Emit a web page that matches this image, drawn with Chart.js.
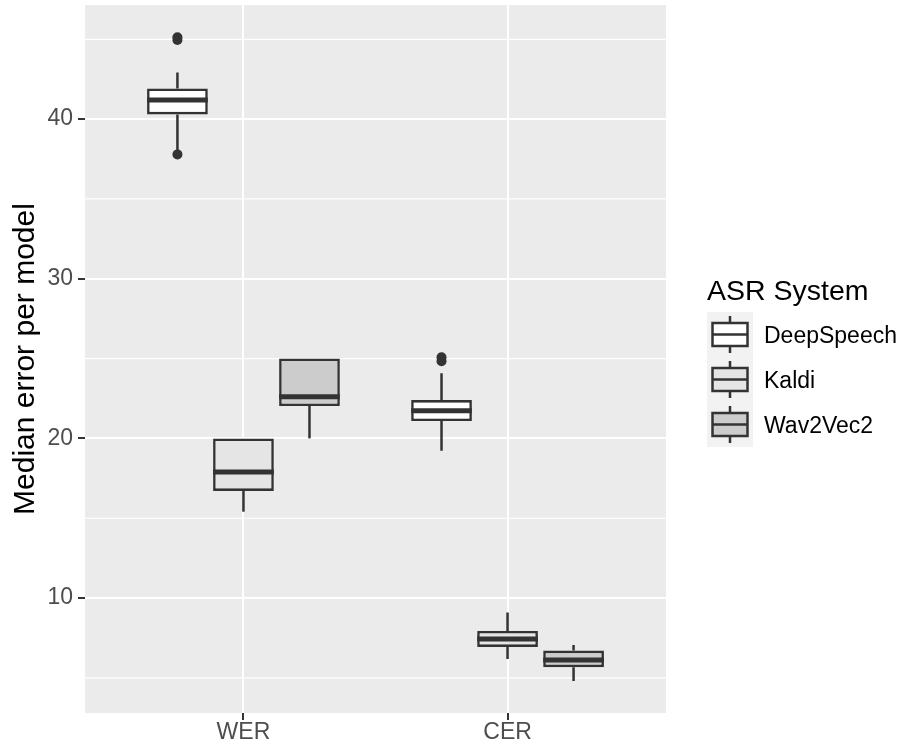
<!DOCTYPE html>
<html><head><meta charset="utf-8">
<script src="https://cdn.jsdelivr.net/npm/chart.js@4.4.1/dist/chart.umd.min.js"></script>
<style>html,body{margin:0;padding:0;background:#fff;} #wrap{width:903px;height:746px;}</style>
</head><body><div id="wrap"><canvas id="c" width="903" height="746"></canvas></div>
<script>
const categories = ['WER', 'CER'];
const systems = ['DeepSpeech', 'Kaldi', 'Wav2Vec2'];
const fillColors = ['#FFFFFF', '#E5E5E5', '#CCCCCC'];
// five-number summaries per category: [min, q1, median, q3, max]
const deepSpeechStats = [[37.95, 40.29, 41.19, 41.92, 42.92], [19.23, 21.09, 21.73, 22.40, 24.08]];
const kaldiStats = [[15.41, 16.71, 17.90, 20.00, 20.00], [6.19, 6.94, 7.44, 7.94, 9.09]];
const wav2vec2Stats = [[20.00, 22.03, 22.61, 25.01, 25.01], [4.81, 5.67, 6.12, 6.71, 7.06]];
const deepSpeechOutliers = [[45.12, 44.95, 37.79], [25.08, 24.84]];
const kaldiOutliers = [[], []];
const wav2vec2Outliers = [[], []];
const yTicks = [10, 20, 30, 40];
const yMinorTicks = [5, 15, 25, 35, 45];
const yLimits = [2.8, 47.14];
const xLimits = [0.4, 2.6];
const dodge = 0.25;

const allStats = [deepSpeechStats, kaldiStats, wav2vec2Stats];
const allOutliers = [deepSpeechOutliers, kaldiOutliers, wav2vec2Outliers];
const FONT = '"Liberation Sans", Arial, sans-serif';

const boxDatasets = systems.map((name, s) => ({
  type: 'bar',
  label: name,
  data: categories.map((c, ci) => ({ x: ci + 1 + (s - 1) * dodge, y: [allStats[s][ci][1], allStats[s][ci][3]], stats: allStats[s][ci] })),
  backgroundColor: fillColors[s],
  borderColor: '#333333',
  borderWidth: 2.6,
  borderSkipped: false,
  grouped: false,
  categoryPercentage: 1,
  barPercentage: 0.92
}));

const outlierPoints = [];
systems.forEach((name, s) => categories.forEach((c, ci) => allOutliers[s][ci].forEach(v => outlierPoints.push({ x: ci + 1 + (s - 1) * dodge, y: v }))));
const outlierDataset = {
  type: 'scatter', label: 'outliers', data: outlierPoints,
  pointRadius: 5, pointHoverRadius: 5, backgroundColor: '#333333', borderWidth: 0, showLine: false, clip: false
};

const boxPlugin = {
  id: 'boxplot',
  beforeDraw(chart) {
    const { ctx, chartArea: a, scales: { y } } = chart;
    ctx.save();
    ctx.fillStyle = '#EBEBEB';
    ctx.fillRect(a.left, a.top, a.width, a.height);
    ctx.strokeStyle = '#FFFFFF';
    ctx.lineWidth = 1.2;
    yMinorTicks.forEach(v => {
      const py = y.getPixelForValue(v);
      ctx.beginPath(); ctx.moveTo(a.left, py); ctx.lineTo(a.right, py); ctx.stroke();
    });
    ctx.restore();
  },
  beforeDatasetsDraw(chart) {
    const { ctx, scales: { y } } = chart;
    ctx.save();
    ctx.strokeStyle = '#333333';
    ctx.lineWidth = 2.5;
    systems.forEach((n, s) => {
      const meta = chart.getDatasetMeta(s);
      meta.data.forEach((el, i) => {
        const st = chart.data.datasets[s].data[i].stats;
        ctx.beginPath();
        ctx.moveTo(el.x, y.getPixelForValue(st[3])); ctx.lineTo(el.x, y.getPixelForValue(st[4]));
        ctx.moveTo(el.x, y.getPixelForValue(st[1])); ctx.lineTo(el.x, y.getPixelForValue(st[0]));
        ctx.stroke();
      });
    });
    ctx.restore();
  },
  afterDatasetsDraw(chart) {
    const { ctx, scales: { y } } = chart;
    ctx.save();
    ctx.strokeStyle = '#333333';
    ctx.lineWidth = 5;
    systems.forEach((n, s) => {
      const meta = chart.getDatasetMeta(s);
      meta.data.forEach((el, i) => {
        const st = chart.data.datasets[s].data[i].stats;
        const py = y.getPixelForValue(st[2]);
        ctx.beginPath(); ctx.moveTo(el.x - el.width / 2, py); ctx.lineTo(el.x + el.width / 2, py); ctx.stroke();
      });
    });
    ctx.restore();
  },
  afterDraw(chart) {
    const ctx = chart.ctx;
    ctx.save();
    ctx.fillStyle = '#000000';
    ctx.font = '28.5px ' + FONT;
    ctx.textAlign = 'left';
    ctx.textBaseline = 'alphabetic';
    ctx.fillText('ASR System', 707, 300);
    const keyLeft = 707, keyTop = 312, keyW = 46, keyH = 45;
    ctx.fillStyle = '#F2F2F2';
    ctx.fillRect(keyLeft, keyTop, keyW, keyH * systems.length);
    systems.forEach((name, s) => {
      const cy = keyTop + keyH * s + keyH / 2;
      const cx = keyLeft + keyW / 2;
      ctx.strokeStyle = '#333333';
      ctx.lineWidth = 2.5;
      ctx.beginPath();
      ctx.moveTo(cx, cy - 18.5); ctx.lineTo(cx, cy - 11.5);
      ctx.moveTo(cx, cy + 11.5); ctx.lineTo(cx, cy + 18.5);
      ctx.stroke();
      ctx.fillStyle = fillColors[s];
      ctx.fillRect(cx - 17.5, cy - 11.5, 35, 23);
      ctx.strokeRect(cx - 17.5, cy - 11.5, 35, 23);
      ctx.beginPath(); ctx.moveTo(cx - 17.5, cy); ctx.lineTo(cx + 17.5, cy); ctx.stroke();
      ctx.fillStyle = '#000000';
      ctx.font = '23px ' + FONT;
      ctx.fillText(name, 764, cy + 8.5);
    });
    ctx.restore();
  }
};

new Chart(document.getElementById('c'), {
  type: 'bar',
  data: { datasets: [...boxDatasets, outlierDataset] },
  plugins: [boxPlugin],
  options: {
    responsive: false,
    animation: false,
    layout: { autoPadding: false, padding: { left: 0, right: 237, top: 5, bottom: 0 } },
    plugins: { legend: { display: false }, tooltip: { enabled: false } },
    scales: {
      x: {
        type: 'linear', min: xLimits[0], max: xLimits[1], offset: false,
        afterBuildTicks: sc => { sc.ticks = categories.map((c, i) => ({ value: i + 1 })); },
        afterFit: sc => { sc.height = 33; },
        ticks: { callback: v => categories[v - 1], font: { size: 23, family: FONT, lineHeight: 1 }, color: '#4D4D4D', padding: 1, autoSkip: false, maxRotation: 0 },
        grid: { color: '#FFFFFF', lineWidth: 2, tickColor: '#333333', tickLength: 7, tickWidth: 2, offset: false },
        border: { display: false }
      },
      y: {
        type: 'linear', min: yLimits[0], max: yLimits[1],
        afterBuildTicks: sc => { sc.ticks = yTicks.map(v => ({ value: v })); },
        afterFit: sc => { sc.width = 85; },
        ticks: { font: { size: 23, family: FONT, lineHeight: 0.01 }, color: '#4D4D4D', padding: 5 },
        grid: { color: '#FFFFFF', lineWidth: 2, tickColor: '#333333', tickLength: 7, tickWidth: 2 },
        border: { display: false },
        title: { display: true, text: 'Median error per model', color: '#000000', font: { size: 30, family: FONT }, padding: { top: 8, bottom: 0 } }
      }
    }
  }
});
</script>
</body></html>
